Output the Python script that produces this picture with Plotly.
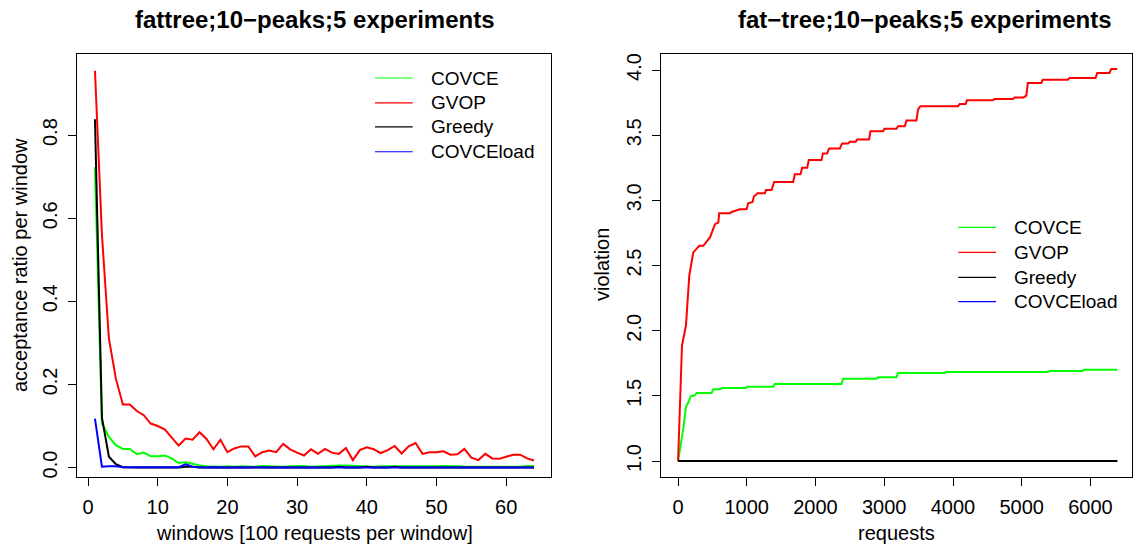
import plotly.graph_objects as go

# ---------------- data ----------------
windows = list(range(1, 65))

acc_covce = [0.723, 0.106, 0.074, 0.054, 0.045, 0.045, 0.032, 0.036, 0.027, 0.027,
             0.029, 0.022, 0.011, 0.013, 0.009, 0.005, 0.003, 0.002, 0.002, 0.003,
             0.002, 0.003, 0.003, 0.002, 0.004, 0.003, 0.002, 0.002, 0.003, 0.004,
             0.004, 0.002, 0.003, 0.003, 0.004, 0.005, 0.005, 0.004, 0.003, 0.002,
             0.002, 0.003, 0.003, 0.002, 0.002, 0.003, 0.002, 0.002, 0.003, 0.003,
             0.004, 0.004, 0.003, 0.002, 0.002, 0.003, 0.002, 0.002, 0.002, 0.003,
             0.002, 0.002, 0.004, 0.004]
acc_gvop = [0.955, 0.560, 0.310, 0.214, 0.152, 0.152, 0.136, 0.126, 0.106, 0.100,
            0.092, 0.072, 0.053, 0.070, 0.067, 0.085, 0.069, 0.044, 0.067, 0.037,
            0.046, 0.051, 0.051, 0.027, 0.037, 0.041, 0.037, 0.057, 0.044, 0.036,
            0.029, 0.044, 0.033, 0.045, 0.036, 0.033, 0.047, 0.018, 0.042, 0.049,
            0.044, 0.035, 0.042, 0.052, 0.034, 0.051, 0.059, 0.033, 0.037, 0.037,
            0.039, 0.031, 0.032, 0.045, 0.024, 0.018, 0.033, 0.022, 0.021, 0.026,
            0.031, 0.031, 0.022, 0.017]
acc_greedy = [0.838, 0.120, 0.026, 0.008, 0.001, 0.000, 0.000, 0.000, 0.000, 0.000,
              0.000, 0.000, 0.000, 0.002, 0.002, 0.000, 0.000, 0.000, 0.000, 0.000,
              0.000, 0.000, 0.000, 0.000, 0.000, 0.000, 0.000, 0.000, 0.000, 0.000,
              0.000, 0.000, 0.000, 0.000, 0.000, 0.002, 0.000, 0.000, 0.000, 0.002,
              0.000, 0.000, 0.000, 0.002, 0.000, 0.000, 0.000, 0.000, 0.000, 0.000,
              0.000, 0.000, 0.000, 0.000, 0.000, 0.000, 0.000, 0.000, 0.000, 0.000,
              0.000, 0.000, 0.000, 0.000]
acc_covceload = [0.118, 0.002, 0.003, 0.003, 0.001, 0.001, 0.001, 0.001, 0.000, 0.001,
                 0.001, 0.000, 0.001, 0.008, 0.002, 0.001, 0.000, 0.001, 0.000, 0.000,
                 0.001, 0.000, 0.000, 0.001, 0.000, 0.000, 0.000, 0.001, 0.000, 0.000,
                 0.000, 0.001, 0.000, 0.000, 0.000, 0.000, 0.001, 0.000, 0.000, 0.000,
                 0.000, 0.000, 0.001, 0.000, 0.000, 0.000, 0.000, 0.001, 0.000, 0.000,
                 0.000, 0.000, 0.000, 0.001, 0.000, 0.000, 0.000, 0.000, 0.000, 0.001,
                 0.000, 0.000, 0.000, 0.000]

# cumulative violation vs. number of requests (step corners)
viol_gvop_x = [1, 58, 116, 164, 222, 310, 368, 465, 538, 586, 600, 755, 780, 876, 901,
               998, 1021, 1085, 1104, 1158, 1264, 1279, 1361, 1399, 1675, 1700, 1782,
               1806, 1879, 1903, 2088, 2107, 2169, 2198, 2354, 2387, 2474, 2499, 2586,
               2605, 2779, 2800, 2983, 3003, 3177, 3201, 3298, 3323, 3468, 3491, 3526,
               4073, 4097, 4184, 4203, 4581, 4606, 4872, 4896, 5027, 5066, 5089, 5284,
               5307, 5671, 5695, 6073, 6098, 6276, 6301, 6390]
viol_gvop_y = [1.000, 1.887, 2.040, 2.422, 2.601, 2.651, 2.651, 2.716, 2.817, 2.830,
               2.901, 2.901, 2.911, 2.924, 2.932, 2.932, 2.978, 2.988, 3.029, 3.054,
               3.054, 3.080, 3.080, 3.141, 3.141, 3.200, 3.200, 3.251, 3.251, 3.309,
               3.309, 3.360, 3.360, 3.398, 3.398, 3.437, 3.437, 3.450, 3.450, 3.467,
               3.467, 3.531, 3.531, 3.549, 3.549, 3.569, 3.569, 3.612, 3.612, 3.696,
               3.722, 3.722, 3.740, 3.740, 3.768, 3.768, 3.778, 3.778, 3.790, 3.790,
               3.804, 3.901, 3.901, 3.926, 3.926, 3.939, 3.939, 3.977, 3.977, 4.008,
               4.008]
viol_covce_x = [1, 77, 116, 150, 184, 247, 271, 489, 513, 610, 649, 988, 1007, 1385,
                1409, 2378, 2402, 2886, 2910, 3177, 3201, 3879, 3904, 5380, 5405, 5880,
                5903, 6390]
viol_covce_y = [1.000, 1.250, 1.416, 1.449, 1.497, 1.505, 1.523, 1.523, 1.550, 1.550,
                1.561, 1.561, 1.571, 1.571, 1.592, 1.592, 1.632, 1.632, 1.642, 1.642,
                1.676, 1.676, 1.683, 1.683, 1.691, 1.691, 1.701, 1.701]
viol_greedy_x = [1, 6390]
viol_greedy_y = [1.0, 1.0]
viol_covceload_x = [1, 6390]
viol_covceload_y = [1.0, 1.0]

series_names = ["COVCE", "GVOP", "Greedy", "COVCEload"]
series_colors = ["#00FF00", "#FF0000", "#000000", "#0000FF"]

left_title = "fattree;10\u2212peaks;5 experiments"
right_title = "fat\u2212tree;10\u2212peaks;5 experiments"

# ---------------- figure ----------------
W, H = 1137, 550
FONT = "Liberation Sans, Arial, Helvetica, sans-serif"


def fx(px):
    return px / W


def fy(py):
    return 1 - py / H


fig = go.Figure()

left_vals = [acc_covce, acc_gvop, acc_greedy, acc_covceload]
for name, color, vals in zip(series_names, series_colors, left_vals):
    fig.add_trace(go.Scatter(x=windows, y=vals, mode="lines", name=name,
                             line=dict(color=color, width=2), showlegend=False,
                             xaxis="x", yaxis="y"))

right_series = [
    ("COVCEload", "#0000FF", viol_covceload_x, viol_covceload_y),
    ("COVCE", "#00FF00", viol_covce_x, viol_covce_y),
    ("GVOP", "#FF0000", viol_gvop_x, viol_gvop_y),
    ("Greedy", "#000000", viol_greedy_x, viol_greedy_y),
]
for name, color, xs, ys in right_series:
    fig.add_trace(go.Scatter(x=xs, y=ys, mode="lines", name=name,
                             line=dict(color=color, width=2), showlegend=False,
                             xaxis="x2", yaxis="y2"))

axis_common = dict(showgrid=False, zeroline=False, showline=True, mirror=True,
                   linecolor="black", linewidth=1, ticks="outside", ticklen=8,
                   tickwidth=1, tickcolor="black",
                   tickfont=dict(family=FONT, size=20, color="black"))

fig.update_layout(
    width=W, height=H,
    margin=dict(l=0, r=0, t=0, b=0),
    paper_bgcolor="white", plot_bgcolor="white",
    xaxis=dict(domain=[fx(77.3), fx(551)], range=[-1.535, 66.43],
               tickvals=[0, 10, 20, 30, 40, 50, 60], anchor="y",
               ticklabelstandoff=4, **axis_common),
    yaxis=dict(domain=[fy(478.3), fy(53.7)], range=[-0.0216, 0.9964],
               tickvals=[0, 0.2, 0.4, 0.6, 0.8], tickformat=".1f", tickangle=-90,
               anchor="x", ticklabelstandoff=3, **axis_common),
    xaxis2=dict(domain=[fx(660.7), fx(1132.3)], range=[-251.6, 6608],
                tickvals=[0, 1000, 2000, 3000, 4000, 5000, 6000], anchor="y2",
                ticklabelstandoff=4, **axis_common),
    yaxis2=dict(domain=[fy(478.3), fy(53.7)], range=[0.881, 4.127],
                tickvals=[1.0, 1.5, 2.0, 2.5, 3.0, 3.5, 4.0], tickformat=".1f",
                tickangle=-90, anchor="x2", ticklabelstandoff=3, **axis_common),
)

annotations = []
shapes = []

# titles
annotations.append(dict(x=fx(315), y=fy(20), xref="paper", yref="paper",
                        text="<b>" + left_title + "</b>", showarrow=False,
                        font=dict(family=FONT, size=24, color="black"),
                        xanchor="center", yanchor="middle"))
annotations.append(dict(x=fx(925), y=fy(20), xref="paper", yref="paper",
                        text="<b>" + right_title + "</b>", showarrow=False,
                        font=dict(family=FONT, size=24, color="black"),
                        xanchor="center", yanchor="middle"))

# axis titles
axis_titles = [
    ("windows [100 requests per window]", 314, 535, 0),
    ("requests", 896, 535, 0),
    ("acceptance ratio per window", 20, 266, -90),
    ("violation", 602, 266, -90),
]
for text, ax, ay, ang in axis_titles:
    annotations.append(dict(x=fx(ax), y=fy(ay), xref="paper", yref="paper",
                            text=text, showarrow=False, textangle=ang,
                            font=dict(family=FONT, size=20, color="black"),
                            xanchor="center", yanchor="middle"))

# legends
legend_boxes = [
    (375, 412.7, 428.7, [78.3, 103.3, 127.3, 152.3]),
    (958.3, 996, 1012, [228.3, 253.3, 278.3, 302.7]),
]
for x0, x1, xt, rows in legend_boxes:
    for name, color, ry in zip(series_names, series_colors, rows):
        shapes.append(dict(type="line", xref="paper", yref="paper",
                           x0=fx(x0), x1=fx(x1), y0=fy(ry), y1=fy(ry),
                           line=dict(color=color, width=1.2)))
        annotations.append(dict(x=fx(xt), y=fy(ry), xref="paper", yref="paper",
                                text=name, showarrow=False,
                                font=dict(family=FONT, size=19, color="black"),
                                xanchor="left", yanchor="middle"))

fig.update_layout(annotations=annotations, shapes=shapes)

fig.write_html("out.html")
